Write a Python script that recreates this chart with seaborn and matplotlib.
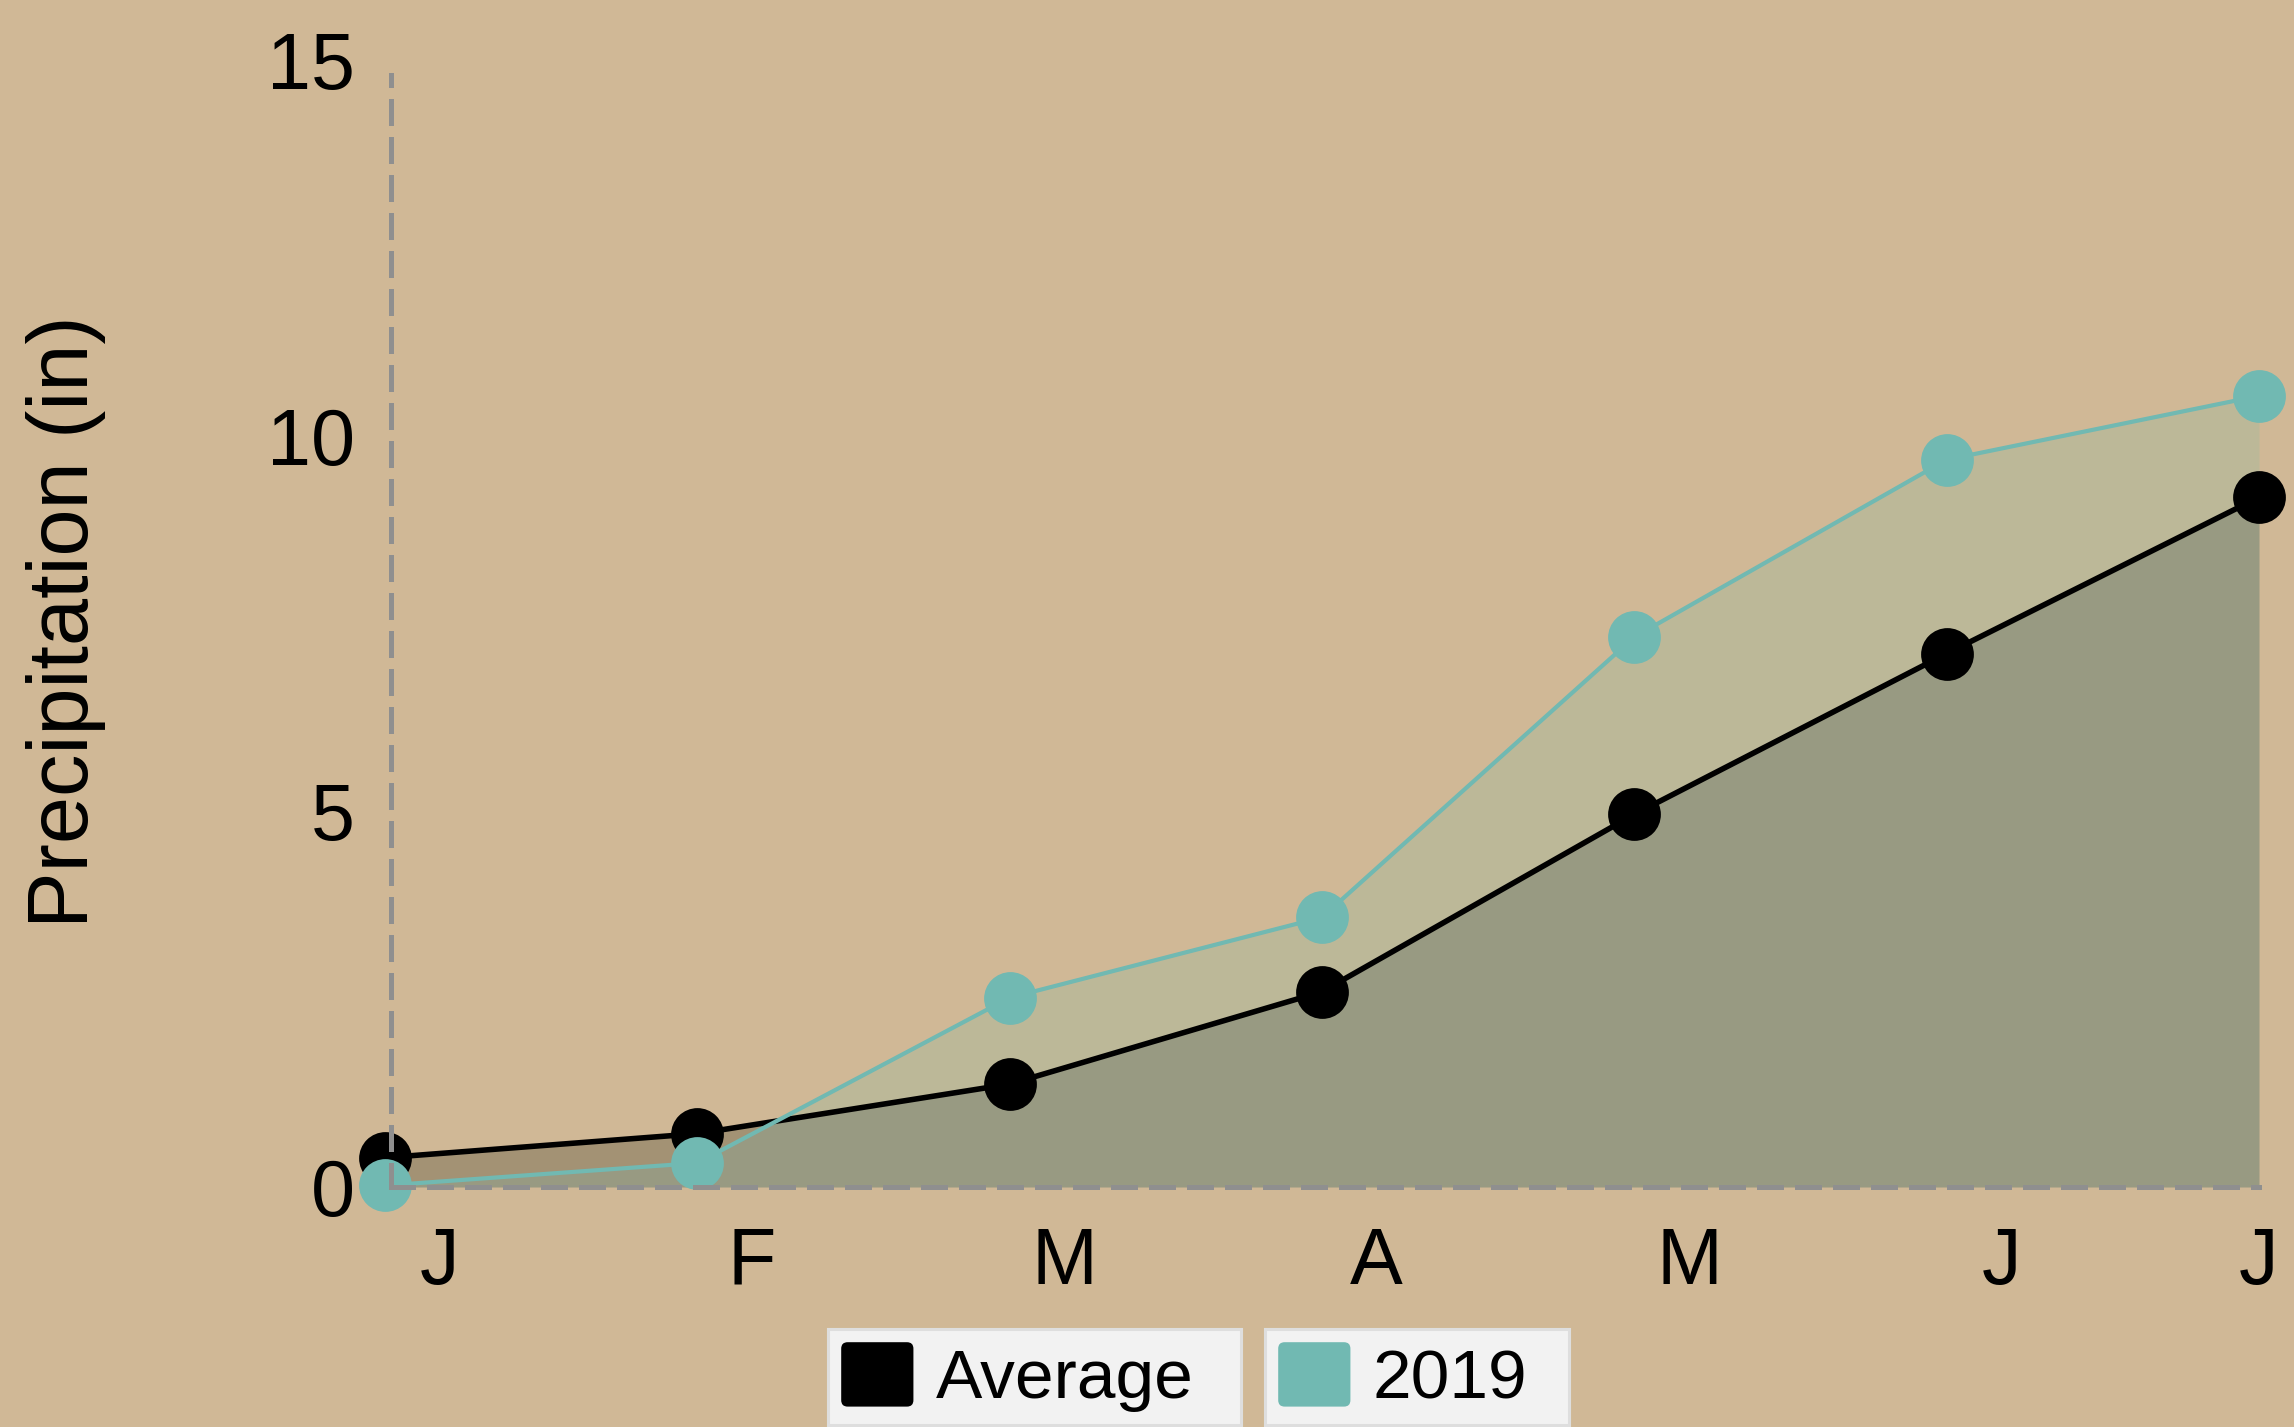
import numpy as np
import pandas as pd
import matplotlib
matplotlib.use("Agg")
import matplotlib.pyplot as plt
import seaborn as sns
from matplotlib.patches import Patch, FancyBboxPatch
from matplotlib.legend_handler import HandlerPatch

# ---------------- data ----------------
months = ["J", "F", "M", "A", "M", "J", "J"]
average = [0.39, 0.71, 1.37, 2.60, 4.96, 7.10, 9.18]
y2019 = [0.02, 0.32, 2.52, 3.59, 7.32, 9.68, 10.53]
yticks = [0, 5, 10, 15]
series_names = ["Average", "2019"]

# ---------------- style ----------------
BG = "#D0B896"
TEAL = "#71B9B2"
BLACK = "#000000"
FILL_BOTH = "#989A82"
FILL_2019 = "#BCB898"
FILL_AVG = "#A39274"
SPINE = "#8F8F8F"

W, H, DPI = 2294, 1427, 100

sns.set_theme(style="white")
plt.rcParams["font.family"] = ["Liberation Sans", "DejaVu Sans"]
plt.rcParams["text.color"] = "black"

fig = plt.figure(figsize=(W / DPI, H / DPI), dpi=DPI, facecolor=BG)
ax = fig.add_axes([391 / W, 1 - 1187 / H, (2259 - 391) / W, (1187 - 60) / H])
ax.set_facecolor(BG)

df = pd.DataFrame({"idx": np.arange(len(months)), "Average": average, "2019": y2019})
x = df["idx"].to_numpy()
avg = df["Average"].to_numpy()
y19 = df["2019"].to_numpy()

# filled areas
ax.fill_between(x, 0, avg, color=FILL_BOTH, lw=0, zorder=1)
ax.fill_between(x, avg, y19, where=y19 >= avg, interpolate=True, color=FILL_2019, lw=0, zorder=1)
ax.fill_between(x, y19, avg, where=avg > y19, interpolate=True, color=FILL_AVG, lw=0, zorder=1)

# lines + markers
sns.lineplot(data=df, x="idx", y="Average", ax=ax, color=BLACK, linewidth=4.0,
             marker="o", markersize=38, markeredgewidth=0, clip_on=False, zorder=3, legend=False)
sns.lineplot(data=df, x="idx", y="2019", ax=ax, color=TEAL, linewidth=3.0,
             marker="o", markersize=38, markeredgewidth=0, clip_on=False, zorder=4, legend=False)

# axes limits
ax.set_xlim(0.019, len(months) - 1)
ax.set_ylim(0, 15)

# spines
for s in ["top", "right"]:
    ax.spines[s].set_visible(False)
for s in ["left", "bottom"]:
    sp = ax.spines[s]
    sp.set_color(SPINE)
    sp.set_linewidth(3.6)
    sp.set_linestyle((0, (4.4, 3.2)))
    sp.set_zorder(5)
ax.spines["left"].set_bounds(0, 14.8)

# ticks
ax.set_yticks(yticks)
ax.set_yticklabels([str(v) for v in yticks])
offset = 0.175
tick_pos = [i + offset for i in range(len(months) - 1)] + [len(months) - 1]
ax.set_xticks(tick_pos)
ax.set_xticklabels(months)
ax.tick_params(axis="y", length=0, pad=26, labelsize=57, labelcolor="black")
ax.tick_params(axis="x", length=0, pad=28, labelsize=57, labelcolor="black")
ax.grid(False)

ax.set_xlabel("")
ax.set_ylabel("Precipitation (in)", fontsize=61, color="black")
ax.yaxis.label.set_va("center")
ax.yaxis.label.set_ha("center")
ax.yaxis.set_label_coords((66 - 391) / (2259 - 391), (1187 - 622) / (1187 - 60))


# legend: two separate boxes
class RoundHandler(HandlerPatch):
    def create_artists(self, legend, orig_handle, xdescent, ydescent, width, height, fontsize, trans):
        p = FancyBboxPatch((-xdescent, -ydescent), width, height,
                           boxstyle=f"round,pad=0,rounding_size={0.1 * height}",
                           facecolor=orig_handle.get_facecolor(), edgecolor="none",
                           transform=trans)
        return [p]


top = 1 - 1329 / H
boxes = [(828, 1241), (1265, 1569)]
for name, col, (bx0, bx1) in zip(series_names, [BLACK, TEAL], boxes):
    h = Patch(facecolor=col, label=name)
    leg = fig.legend(handles=[h], labels=[name], loc="upper left",
                     bbox_to_anchor=(bx0 / W, top - 0.2, (bx1 - bx0) / W, 0.2),
                     bbox_transform=fig.transFigure, mode="expand", borderaxespad=0,
                     fontsize=50, handlelength=1.04, handleheight=1.05,
                     handletextpad=0.32, borderpad=0.19, fancybox=False,
                     framealpha=1, labelcolor="black", handler_map={Patch: RoundHandler()})
    fr = leg.get_frame()
    fr.set_facecolor("#F2F2F2")
    fr.set_edgecolor("#DEDEDE")
    fr.set_linewidth(2.2)
    fig.add_artist(leg)

fig.savefig("out.png", dpi=DPI, facecolor=BG)
